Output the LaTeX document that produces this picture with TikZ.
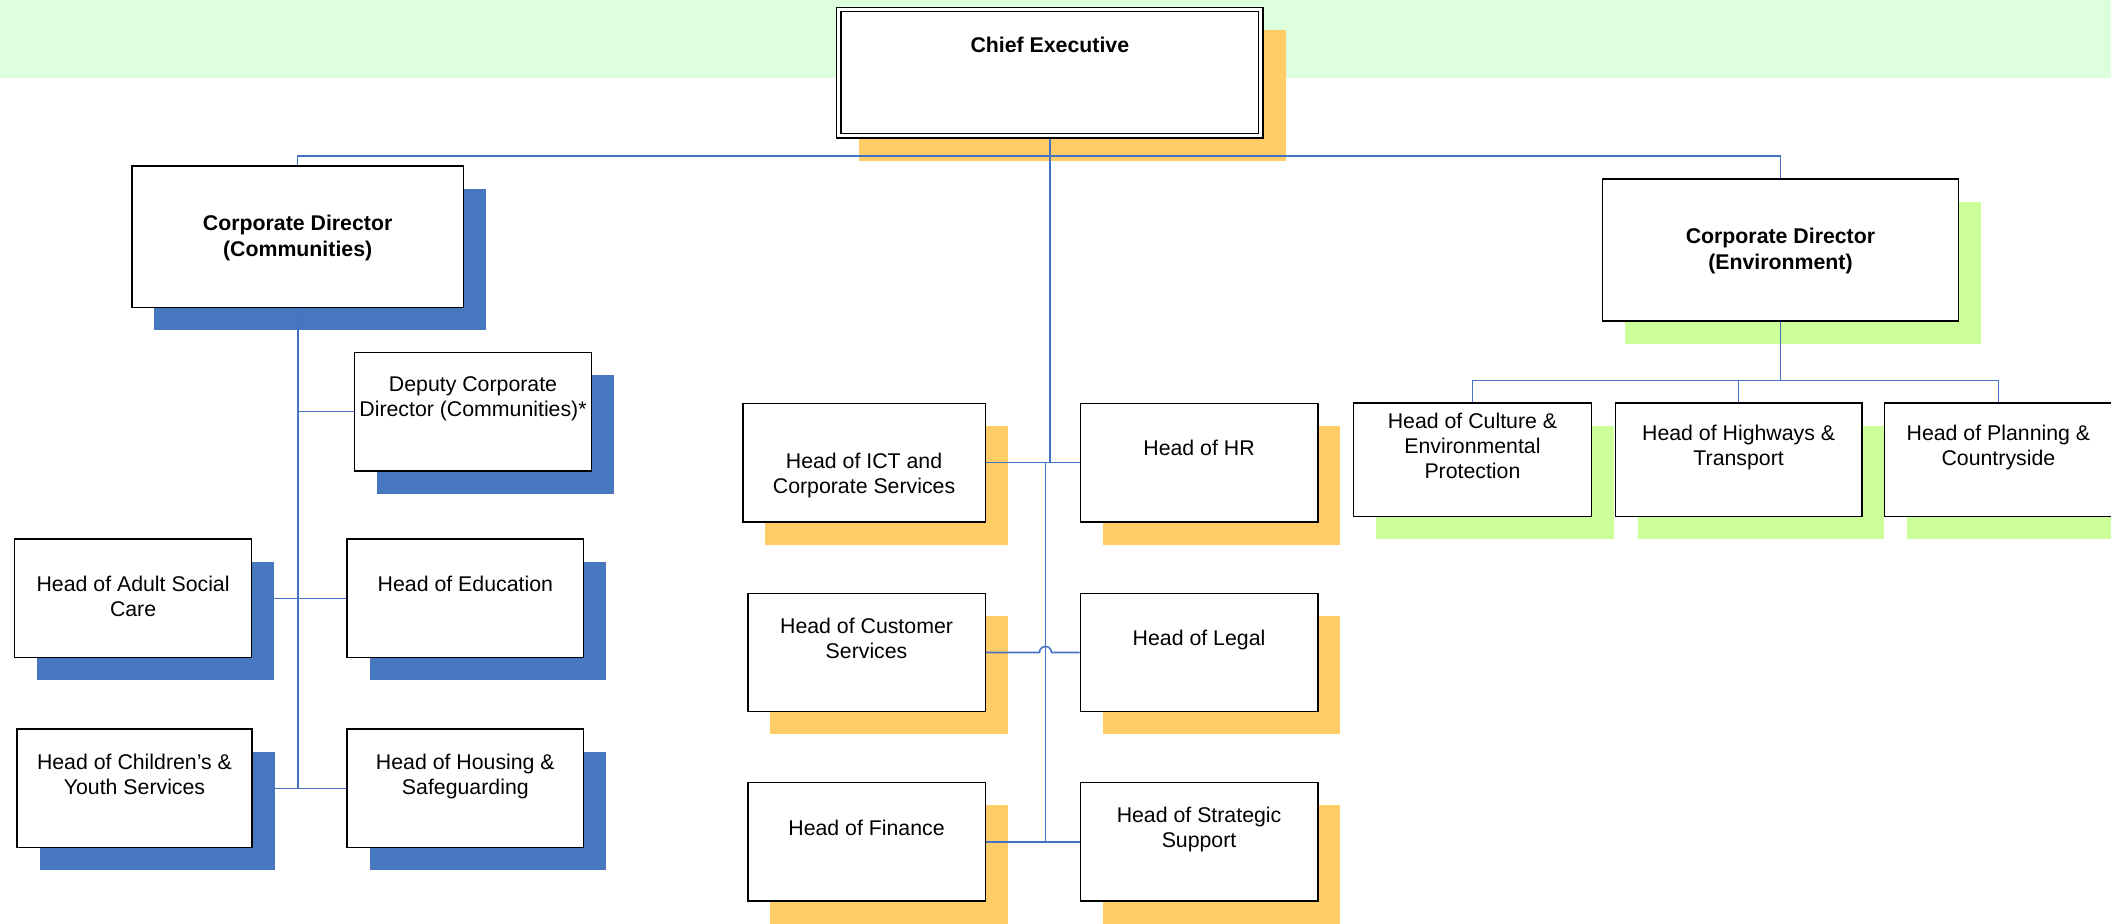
\documentclass[tikz,border=0pt]{standalone}
\usepackage{fontspec}
\setmainfont{Liberation Sans}
\usetikzlibrary{shadows,calc}
\definecolor{band}{HTML}{DDFFDD}
\definecolor{shblue}{HTML}{4777BF}
\definecolor{shorange}{HTML}{FFCC66}
\definecolor{shgreen}{HTML}{CCFF99}
\definecolor{conncol}{HTML}{4472C4}
\begin{document}
\begin{tikzpicture}[x=0.5pt,y=-0.5pt,
  box/.style={draw=black, line width=0.7pt, fill=white, inner sep=0pt, rectangle},
  bshadow/.style={general shadow={fill=shblue, shadow xshift=11.25pt, shadow yshift=-11.25pt}},
  oshadow/.style={general shadow={fill=shorange, shadow xshift=11.25pt, shadow yshift=-11.25pt}},
  gshadow/.style={general shadow={fill=shgreen, shadow xshift=11.25pt, shadow yshift=-11.25pt}},
  txt/.style={anchor=north, inner sep=0pt, align=center, font=\fontsize{10.65}{12.5}\selectfont},
  btxt/.style={anchor=north, inner sep=0pt, align=center, font=\fontsize{10.65}{12.8}\selectfont\bfseries},
  conn/.style={draw=conncol, line width=0.8pt},
  vconn/.style={draw=conncol, line width=0.95pt},
]
\useasboundingbox (0,0) rectangle (2111,923);
\fill[band] (0,0) rectangle (2111,77.5);

% boxes
\node[box, oshadow, minimum width=213.15pt, minimum height=65.35pt] (chief) at (1049.85,72.65) {};
\draw[line width=0.7pt] ([shift={(5,5)}]chief.north west) rectangle ([shift={(-5,-5)}]chief.south east);

\node[box, bshadow, minimum width=165.85pt, minimum height=70.85pt] (cdc) at (297.65,236.85) {};
\node[box, bshadow, minimum width=118.55pt, minimum height=59.35pt] (dep) at (473.05,411.65) {};
\node[box, bshadow, minimum width=118.6pt, minimum height=59.35pt] (adult) at (133.1,598.35) {};
\node[box, bshadow, minimum width=118.35pt, minimum height=59.35pt] (edu) at (465.35,598.35) {};
\node[box, bshadow, minimum width=117.5pt, minimum height=59.35pt] (child) at (134.5,788.35) {};
\node[box, bshadow, minimum width=118.35pt, minimum height=59.35pt] (housing) at (465.35,788.35) {};

\node[box, oshadow, minimum width=121.25pt, minimum height=59.4pt] (ict) at (864.05,462.6) {};
\node[box, oshadow, minimum width=118.75pt, minimum height=59.4pt] (hr) at (1199.05,462.6) {};
\node[box, oshadow, minimum width=118.75pt, minimum height=59.2pt] (cust) at (866.55,652.5) {};
\node[box, oshadow, minimum width=118.75pt, minimum height=59.2pt] (legal) at (1199.05,652.5) {};
\node[box, oshadow, minimum width=118.75pt, minimum height=59.15pt] (fin) at (866.55,841.85) {};
\node[box, oshadow, minimum width=118.75pt, minimum height=59.15pt] (strat) at (1199.05,841.85) {};

\node[box, gshadow, minimum width=178.05pt, minimum height=71pt] (cde) at (1780.45,250) {};
\node[box, gshadow, minimum width=119.05pt, minimum height=56.85pt] (culture) at (1472.45,459.85) {};
\node[box, gshadow, minimum width=123.25pt, minimum height=56.85pt] (highways) at (1738.65,459.85) {};
\node[box, gshadow, minimum width=114.1pt, minimum height=56.85pt] (planning) at (1998.4,459.85) {};

% texts
\node[btxt] (chief-t) at ([shift={(0,30)}]chief.north) {Chief Executive};
\node[btxt] (cdc-t) at ([shift={(0,49.5)}]cdc.north) {Corporate Director\\(Communities)};
\node[txt] (dep-t) at ([shift={(0,25)}]dep.north) {Deputy Corporate\\Director (Communities)*};
\node[txt] (adult-t) at ([shift={(0,37.5)}]adult.north) {Head of Adult Social\\Care};
\node[txt] (edu-t) at ([shift={(0,37.5)}]edu.north) {Head of Education};
\node[txt] (child-t) at ([shift={(0,25)}]child.north) {Head of Children’s \&\\Youth Services};
\node[txt] (housing-t) at ([shift={(0,25)}]housing.north) {Head of Housing \&\\Safeguarding};
\node[txt] (ict-t) at ([shift={(0,50.5)}]ict.north) {Head of ICT and\\Corporate Services};
\node[txt] (hr-t) at ([shift={(0,37.5)}]hr.north) {Head of HR};
\node[txt] (cust-t) at ([shift={(0,25)}]cust.north) {Head of Customer\\Services};
\node[txt] (legal-t) at ([shift={(0,37.5)}]legal.north) {Head of Legal};
\node[txt] (fin-t) at ([shift={(0,37.5)}]fin.north) {Head of Finance};
\node[txt] (strat-t) at ([shift={(0,25)}]strat.north) {Head of Strategic\\Support};
\node[btxt] (cde-t) at ([shift={(0,49.5)}]cde.north) {Corporate Director\\(Environment)};
\node[txt] (culture-t) at ([shift={(0,10.5)}]culture.north) {Head of Culture \&\\Environmental\\Protection};
\node[txt] (highways-t) at ([shift={(0,22)}]highways.north) {Head of Highways \&\\Transport};
\node[txt] (planning-t) at ([shift={(0,22)}]planning.north) {Head of Planning \&\\Countryside};

% connectors
\coordinate (bar) at (0,156);
\coordinate (eb) at (0,380.3);
\coordinate (sp) at (1045.5,0);

\draw[conn] (cdc.north) -- (cdc.north |- bar) -- (cde.north |- bar) -- (cde.north);
\draw[vconn] (chief.south) -- (chief.south |- ict.east);
\draw[conn] (ict.east) -- (hr.west);
\draw[vconn] (sp |- ict.east) -- (sp |- fin.east);
\draw[conn] (cust.east) -- ($(sp |- cust.east)+(-6,0)$) arc[start angle=180, end angle=0, radius=3pt] -- (legal.west);
\draw[conn] (fin.east) -- (strat.west);

\draw[vconn] (cdc.south) -- (cdc.south |- child.east);
\draw[conn] (cdc.south |- dep.west) -- (dep.west);
\draw[conn] (adult.east) -- (edu.west);
\draw[conn] (child.east) -- (housing.west);

\draw[vconn] (cde.south) -- (cde.south |- eb);
\draw[conn] (culture.north) -- (culture.north |- eb) -- (planning.north |- eb) -- (planning.north);
\draw[conn] (highways.north) -- (highways.north |- eb);
\end{tikzpicture}
\end{document}
